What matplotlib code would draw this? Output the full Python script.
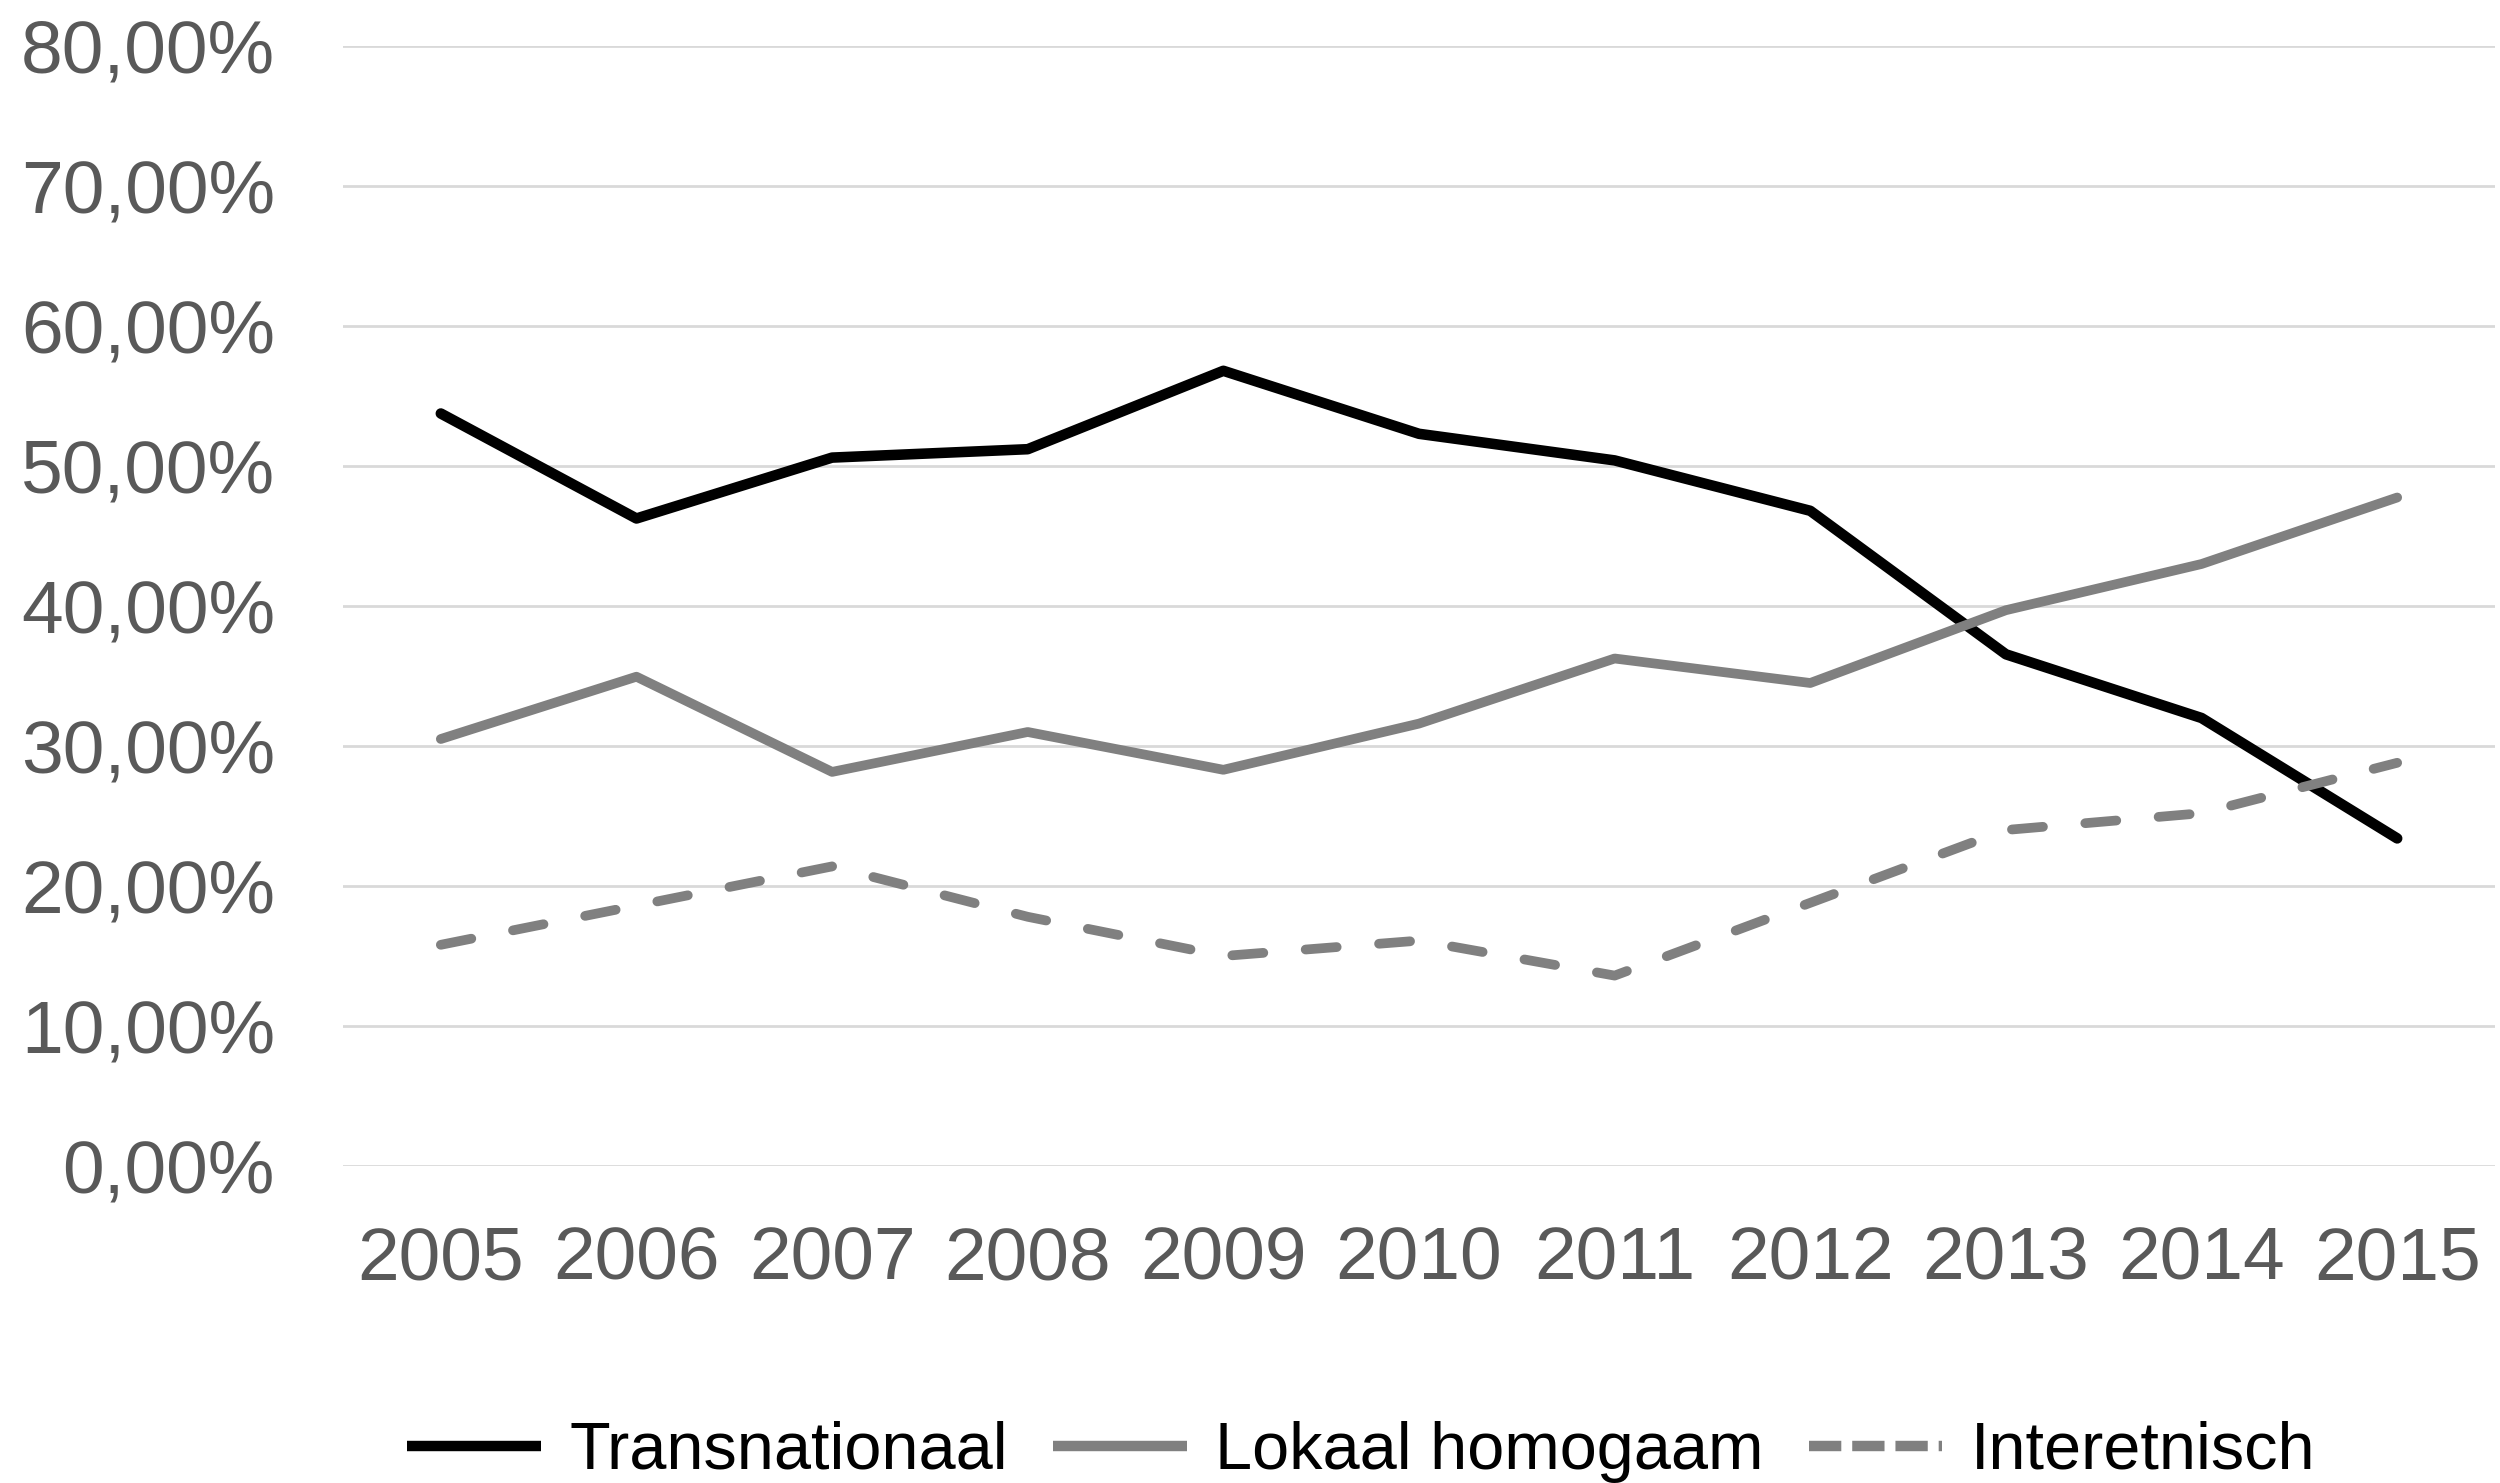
import matplotlib
matplotlib.use("Agg")
import matplotlib.pyplot as plt
from matplotlib.lines import Line2D

years = ["2005", "2006", "2007", "2008", "2009", "2010", "2011", "2012", "2013", "2014", "2015"]
transnationaal = [53.75, 46.25, 50.6, 51.2, 56.8, 52.3, 50.4, 46.8, 36.55, 32.0, 23.4]
lokaal_homogaam = [30.5, 34.95, 28.15, 31.0, 28.3, 31.6, 36.25, 34.5, 39.7, 43.0, 47.75]
interetnisch = [15.8, 18.6, 21.4, 17.8, 15.0, 16.1, 13.6, 18.8, 24.0, 25.2, 28.8]
series_names = ["Transnationaal", "Lokaal homogaam", "Interetnisch"]
y_ticks = [0, 10, 20, 30, 40, 50, 60, 70, 80]
y_tick_labels = ["0,00%", "10,00%", "20,00%", "30,00%", "40,00%", "50,00%", "60,00%", "70,00%", "80,00%"]

plt.rcParams['font.family'] = ['Liberation Sans', 'DejaVu Sans']

W, H = 2500, 1483
fig = plt.figure(figsize=(W / 100, H / 100), dpi=100)
left, right = 343 / W, 2495 / W
bottom, top = 1 - 1166 / H, 1 - 46 / H
ax = fig.add_axes([left, bottom, right - left, top - bottom])

BLACK_LW, GRAY_LW = 7.6, 7.0
x = list(range(len(years)))
ax.plot(x, transnationaal, color="#000000", lw=BLACK_LW, solid_capstyle="round",
        solid_joinstyle="round", zorder=3)
ax.plot(x, lokaal_homogaam, color="#808080", lw=GRAY_LW, solid_capstyle="round",
        solid_joinstyle="round", zorder=3)
ax.plot(x, interetnisch, color="#808080", lw=GRAY_LW, linestyle=(0, (3.2, 4.37)),
        dash_capstyle="round", dash_joinstyle="round", zorder=3)

ax.set_xlim(-0.5, len(years) - 0.5)
ax.set_ylim(0, 80)
ax.set_yticks(y_ticks)
ax.set_yticklabels(y_tick_labels)
ax.set_xticks(x)
ax.set_xticklabels(years)
ax.grid(axis="y", color="#d9d9d9", lw=2.0)
ax.set_axisbelow(True)
for s in ax.spines.values():
    s.set_visible(False)
ax.tick_params(axis="both", length=0, labelsize=54, labelcolor="#595959")
ax.tick_params(axis="y", pad=49)
ax.tick_params(axis="x", pad=43)

handles = [Line2D([], [], color="#000000", lw=GRAY_LW + 0.5, solid_capstyle="butt"),
           Line2D([], [], color="#808080", lw=GRAY_LW + 0.5, solid_capstyle="butt"),
           Line2D([], [], color="#808080", lw=GRAY_LW + 0.5, linestyle=(0, (3.1, 1.05)),
                  dash_capstyle="butt")]
fig.legend(handles, series_names, loc="center", bbox_to_anchor=(0.5446, 0.021),
           ncol=3, frameon=False, fontsize=48, handlelength=2.0, handletextpad=0.43,
           columnspacing=0.68, borderpad=0, labelcolor="#000000")

fig.savefig("out.png", dpi=100, facecolor="white")
